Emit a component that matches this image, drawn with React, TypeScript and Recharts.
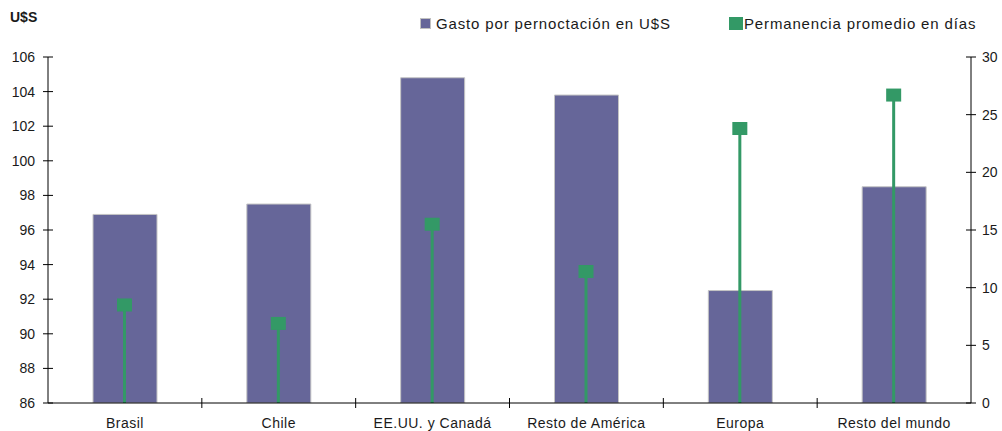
import { ComposedChart, Bar, XAxis, YAxis } from 'recharts';

const REGIONS = ['Brasil', 'Chile', 'EE.UU. y Canadá', 'Resto de América', 'Europa', 'Resto del mundo'];
const GASTO = [96.9, 97.5, 104.8, 103.8, 92.5, 98.5]; // U$S por pernoctación
const PERMANENCIA = [8.5, 6.9, 15.5, 11.4, 23.8, 26.7]; // días
const LEFT_TICKS = [86, 88, 90, 92, 94, 96, 98, 100, 102, 104, 106];
const RIGHT_TICKS = [0, 5, 10, 15, 20, 25, 30];

const PURPLE = '#666699';
const GREEN = '#339966';
const FONT = '"Liberation Sans", Arial, sans-serif';
const TXT = '#1a1a1a';

const data = REGIONS.map((region, i) => ({ region, gasto: GASTO[i], dias: PERMANENCIA[i] }));

const PLOT_W = 923;
const BAND = PLOT_W / REGIONS.length;

function LeftTick({ x, y, payload }: any) {
  return (
    <g>
      <line x1={x - 5} x2={x + 5} y1={y} y2={y} stroke="#000" />
      <text x={x - 13} y={y} dy={5} textAnchor="end" fontSize={14} fontFamily={FONT} fill={TXT}>
        {payload.value}
      </text>
    </g>
  );
}

function RightTick({ x, y, payload }: any) {
  return (
    <g>
      <line x1={x - 5} x2={x + 5} y1={y} y2={y} stroke="#000" />
      <text x={x + 11} y={y} dy={5} textAnchor="start" fontSize={14} fontFamily={FONT} fill={TXT}>
        {payload.value}
      </text>
    </g>
  );
}

function CatTick({ x, y, payload, index }: any) {
  return (
    <g>
      {index < REGIONS.length - 1 && (
        <line x1={x + BAND / 2} x2={x + BAND / 2} y1={y - 5} y2={y + 5} stroke="#000" />
      )}
      <text x={x} y={y + 25} textAnchor="middle" fontSize={14} fontFamily={FONT} fill={TXT} letterSpacing={0.5}>
        {payload.value}
      </text>
    </g>
  );
}

// linea vertical desde el eje hasta el valor, con un cuadrado arriba
function Stick({ x, y, width, height }: any) {
  const cx = x + width / 2;
  return (
    <g>
      <line x1={cx} x2={cx} y1={y} y2={y + height} stroke={GREEN} strokeWidth={3} />
      <rect x={cx - 7.5} y={y - 6.5} width={15} height={13} fill={GREEN} />
    </g>
  );
}

function LegendBox() {
  return (
    <div
      style={{
        position: 'absolute',
        left: 420,
        top: 15,
        display: 'flex',
        fontFamily: FONT,
        fontSize: 15,
        color: TXT,
        letterSpacing: 0.85,
      }}
    >
      <div style={{ display: 'flex', alignItems: 'center', width: 309 }}>
        <span style={{ width: 9, height: 9, background: PURPLE, border: '1px solid #c0c0c0', marginRight: 5 }} />
        Gasto por pernoctación en U$S
      </div>
      <div style={{ display: 'flex', alignItems: 'center' }}>
        <span style={{ width: 14, height: 13, background: GREEN, marginRight: 1 }} />
        Permanencia promedio en días
      </div>
    </div>
  );
}

export default function App() {
  return (
    <div style={{ position: 'absolute', left: 0, top: 0, width: 1002, height: 431, background: '#fff' }}>
      <ComposedChart width={1002} height={431} data={data} margin={{ top: 57, right: 0, bottom: 0, left: 8 }}>
        <XAxis
          dataKey="region"
          xAxisId="main"
          height={28}
          tickSize={0}
          tickMargin={0}
          tickLine={false}
          axisLine={{ stroke: '#000' }}
          tick={<CatTick />}
          interval={0}
        />
        <XAxis dataKey="region" xAxisId="stick" hide />
        <YAxis
          yAxisId="left"
          width={40}
          domain={[86, 106]}
          ticks={LEFT_TICKS}
          allowDataOverflow
          tickSize={0}
          tickMargin={0}
          tickLine={false}
          axisLine={{ stroke: '#000' }}
          tick={<LeftTick />}
          interval={0}
        />
        <YAxis
          yAxisId="right"
          orientation="right"
          width={31}
          domain={[0, 30]}
          ticks={RIGHT_TICKS}
          tickSize={0}
          tickMargin={0}
          tickLine={false}
          axisLine={{ stroke: '#000' }}
          tick={<RightTick />}
          interval={0}
        />
        <Bar
          dataKey="gasto"
          name="Gasto por pernoctación en U$S"
          xAxisId="main"
          yAxisId="left"
          barSize={64}
          fill={PURPLE}
          stroke="#c4c4c4"
          strokeWidth={1}
          isAnimationActive={false}
        />
        <Bar
          dataKey="dias"
          name="Permanencia promedio en días"
          xAxisId="stick"
          yAxisId="right"
          barSize={15}
          shape={<Stick />}
          isAnimationActive={false}
        />
      </ComposedChart>
      <div
        style={{
          position: 'absolute',
          left: 10,
          top: 9,
          fontFamily: FONT,
          fontWeight: 'bold',
          fontSize: 14,
          color: TXT,
        }}
      >
        U$S
      </div>
      <LegendBox />
    </div>
  );
}
